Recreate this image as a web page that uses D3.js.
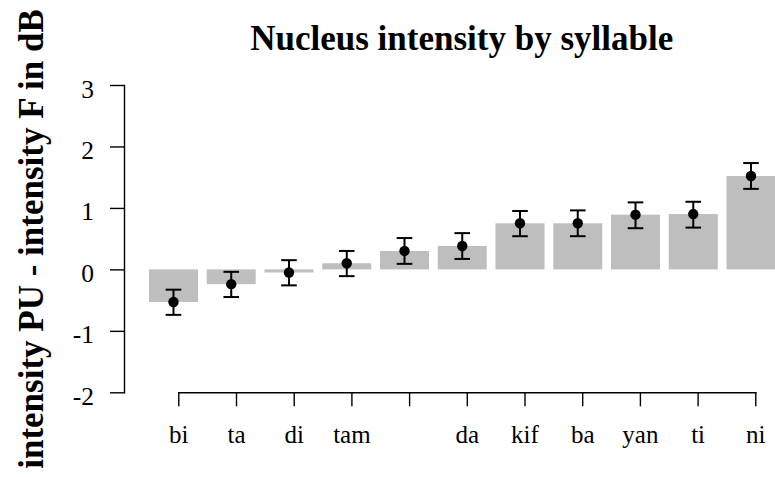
<!DOCTYPE html>
<html>
<head>
<meta charset="utf-8">
<script src="https://cdn.jsdelivr.net/npm/d3@7"></script>
<style>
  html, body { margin: 0; padding: 0; background: #fff; }
  svg { display: block; }
  text { font-family: "Liberation Serif", "Times New Roman", serif; fill: #000; }
</style>
</head>
<body>
<svg id="chart" width="775" height="477"></svg>
<script>
// Syllables (the fifth has no printed label)
const categories = ["bi", "ta", "di", "tam", "", "da", "kif", "ba", "yan", "ti", "ni"];
// Mean intensity difference (dB) per syllable
const means = [-0.53, -0.24, -0.05, 0.10, 0.30, 0.38, 0.75, 0.75, 0.89, 0.90, 1.52];
// Error bar ends
const lower = [-0.74, -0.45, -0.26, -0.11, 0.09, 0.17, 0.54, 0.54, 0.67, 0.68, 1.31];
const upper = [-0.33, -0.04, 0.15, 0.30, 0.51, 0.59, 0.95, 0.96, 1.09, 1.10, 1.73];
const yTicks = [-2, -1, 0, 1, 2, 3];

const title = "Nucleus intensity by syllable";
const yTitle = "intensity PU - intensity F in dB";

const svg = d3.select("#chart");
const idx = d3.range(categories.length);

const y = d3.scaleLinear().domain([-2, 3]).range([392.3, 85]);

// Bars
const xBar = d3.scaleBand().domain(idx).range([144.6, 779.9])
  .paddingInner(0.1515).paddingOuter(0.0758);
// Axis tick positions
const xAxisScale = d3.scalePoint().domain(idx).range([178.3, 755.3]);

const barCenter = i => xBar(i) + xBar.bandwidth() / 2;

svg.append("g").selectAll("rect").data(idx).join("rect")
  .attr("x", i => xBar(i))
  .attr("width", xBar.bandwidth())
  .attr("y", i => y(Math.max(0, means[i])))
  .attr("height", i => Math.abs(y(means[i]) - y(0)))
  .attr("fill", "#bebebe");

// Error bars
const eb = svg.append("g").attr("stroke", "#000").attr("stroke-width", 2).attr("fill", "none");
const capHalf = 7.8;
idx.forEach(i => {
  const cx = barCenter(i);
  eb.append("line").attr("x1", cx).attr("x2", cx).attr("y1", y(lower[i])).attr("y2", y(upper[i]));
  eb.append("line").attr("x1", cx - capHalf).attr("x2", cx + capHalf).attr("y1", y(lower[i])).attr("y2", y(lower[i]));
  eb.append("line").attr("x1", cx - capHalf).attr("x2", cx + capHalf).attr("y1", y(upper[i])).attr("y2", y(upper[i]));
});

// Mean points
svg.append("g").selectAll("circle").data(idx).join("circle")
  .attr("cx", i => barCenter(i))
  .attr("cy", i => y(means[i]))
  .attr("r", 5.2)
  .attr("fill", "#000");

// Y axis (plain hyphen for negatives)
const yAxis = svg.append("g").attr("transform", "translate(124,0)")
  .call(d3.axisLeft(y).tickValues(yTicks).tickFormat(d => String(d)).tickSize(14).tickSizeOuter(0).tickPadding(16));
yAxis.selectAll("path, line").attr("stroke", "#000").attr("stroke-width", 1.4);
yAxis.selectAll("text").attr("font-size", 25.5).attr("dy", "0.47em")
  .style("font-family", "'Liberation Serif', serif");

// X axis
const xAxis = svg.append("g").attr("transform", "translate(0,392.3)")
  .call(d3.axisBottom(xAxisScale).tickFormat(i => categories[i]).tickSize(14).tickSizeOuter(0).tickPadding(20));
xAxis.selectAll("path, line").attr("stroke", "#000").attr("stroke-width", 1.4);
xAxis.selectAll("text").attr("font-size", 25).attr("dy", "0.68em")
  .style("font-family", "'Liberation Serif', serif");
svg.selectAll(".domain").attr("stroke-linecap", "square");

// Title
svg.append("text")
  .attr("x", 461.7).attr("y", 50)
  .attr("text-anchor", "middle")
  .attr("font-size", 35).attr("font-weight", "bold")
  .text(title);

// Y axis title
svg.append("text")
  .attr("transform", "translate(43,239) rotate(-90)")
  .attr("text-anchor", "middle")
  .attr("font-size", 35).attr("font-weight", "bold")
  .text(yTitle);
</script>
</body>
</html>
